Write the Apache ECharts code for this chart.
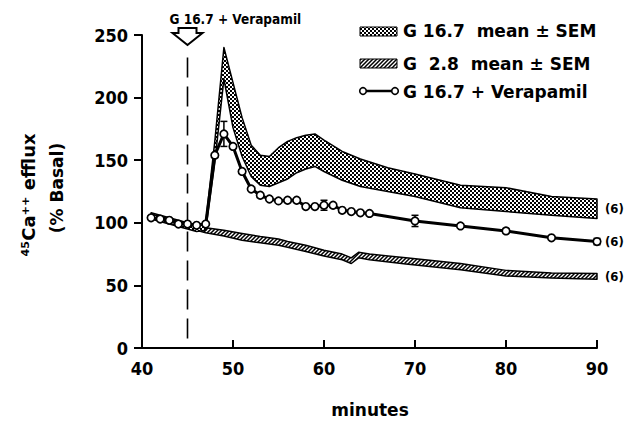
<!DOCTYPE html>
<html><head><meta charset="utf-8">
<script src="https://cdn.jsdelivr.net/npm/echarts@6/dist/echarts.min.js"></script>
<style>html,body{margin:0;padding:0;background:#fff}#c{width:624px;height:424px}</style>
</head><body><div id="c"></div>
<script>
// ---- data ----
const xTicks = [40, 50, 60, 70, 80, 90];
const yTicks = [0, 50, 100, 150, 200, 250];

const verX = [41,42,43,44,45,46,47,48,49,50,51,52,53,54,55,56,57,58,59,60,61,62,63,64,65,70,75,80,85,90];
const verY = [104,103,102,99,99,98,99,154,171,161,141,127,122,119,117.5,118,118,113,113,114,114,110,109,108,107.5,101.5,97.5,93.5,88,85];
const errX = [49, 60, 70, 80, 90];
const errV = [10, 4, 4.5, 2, 2.5];

const g167X  = [41,42,43,44,45,46,47,48,49,50,51,52,53,54,55,56,57,58,59,60,62,64,67,70,75,80,85,90];
const g167Hi = [107,105,103,101,99,98,100,165,240,212,184,162,154,153,160,165,168,170,171,166,157,151,144,139,130,128,121,119];
const g167Lo = [103,101,99,97,95,93,94,148,215,176,153,137,130,129,132,135,140,143,145,141,134,129,125,121,112,109,106,103.5];

const g28X  = [41,43,45,47,49,51,53,55,56,58,60,62,63,63.8,65,69,75,80,85,90];
const g28Hi = [108,104,100,96,94,91.5,89,87,85,82,78,75,72,76.5,75,72,67.5,62,60,59.5];
const g28Lo = [104,100,96,92,89.5,86,84,82,80.5,77,73.5,70.5,67.5,72,70.5,67,62.5,57.5,56,55];

const stimX = 45, stimTop = 232, arrowTip = 242;
const nLabel = '(6)';

// ---- patterns ----
function dotPattern() {
  const c = document.createElement('canvas'); c.width = 4; c.height = 4;
  const g = c.getContext('2d');
  g.fillStyle = '#fff'; g.fillRect(0,0,4,4);
  g.fillStyle = '#000'; g.fillRect(0,0,2,2); g.fillRect(2,2,2,2);
  return {image: c, repeat: 'repeat', imageWidth: 4, imageHeight: 4};
}
function hatchPattern() {
  const c = document.createElement('canvas'); c.width = 4; c.height = 4;
  const g = c.getContext('2d');
  g.fillStyle = '#fff'; g.fillRect(0,0,4,4);
  g.strokeStyle = '#000'; g.lineWidth = 1.5;
  g.beginPath();
  g.moveTo(-1,5); g.lineTo(5,-1);
  g.moveTo(-1,1); g.lineTo(1,-1);
  g.moveTo(3,5); g.lineTo(5,3);
  g.stroke();
  return {image: c, repeat: 'repeat', imageWidth: 4, imageHeight: 4};
}
const DOT = dotPattern(), HATCH = hatchPattern();

const FONT_L = 'bold 17px "DejaVu Sans"';
const FONT_N = 'bold 13px "DejaVu Sans Condensed", "DejaVu Sans"';
const N_DX = 8;

function band(xs, lo, hi, fill, z) {
  return {
    type: 'custom', coordinateSystem: 'cartesian2d', clip: false, silent: true, z: z,
    data: xs.map((x, i) => [x, lo[i], hi[i]]),
    encode: {x: 0, y: [1, 2]},
    renderItem: function (params, api) {
      if (params.dataIndex !== 0) return null;
      const top = xs.map((x, i) => api.coord([x, hi[i]]));
      const bot = xs.map((x, i) => api.coord([x, lo[i]]));
      const last = xs.length - 1;
      const mid = api.coord([xs[last], (lo[last] + hi[last]) / 2]);
      return {type: 'group', children: [
        {type: 'polygon', shape: {points: top.concat(bot.slice().reverse())},
         style: {fill: fill, stroke: '#000', lineWidth: 1.5, lineJoin: 'round'}},
        {type: 'text', x: mid[0] + N_DX, y: mid[1],
         style: {text: nLabel, font: FONT_N, fill: '#000', verticalAlign: 'middle', align: 'left'}}
      ]};
    }
  };
}

const chart = echarts.init(document.getElementById('c'), null, {renderer: 'svg'});
chart.setOption({
  animation: false,
  backgroundColor: '#fff',
  grid: {left: 142, right: 27, top: 35, bottom: 76},
  xAxis: {
    type: 'value', min: xTicks[0], max: xTicks[xTicks.length - 1], interval: 10,
    axisLine: {show: true, lineStyle: {color: '#000', width: 2}},
    axisTick: {show: true, inside: true, length: 8, lineStyle: {color: '#000', width: 2}},
    axisLabel: {margin: 11, color: '#000', fontFamily: '"DejaVu Sans Condensed", "DejaVu Sans"', fontWeight: 'bold', fontSize: 18},
    splitLine: {show: false}
  },
  yAxis: {
    type: 'value', min: yTicks[0], max: yTicks[yTicks.length - 1], interval: 50,
    axisLine: {show: true, lineStyle: {color: '#000', width: 2}},
    axisTick: {show: true, inside: false, length: 8, lineStyle: {color: '#000', width: 2}},
    axisLabel: {margin: 14, color: '#000', fontFamily: '"DejaVu Sans Condensed", "DejaVu Sans"', fontWeight: 'bold', fontSize: 18},
    splitLine: {show: false}
  },
  graphic: [
    {type: 'text', x: 28, y: 195, rotation: Math.PI / 2,
     style: {text: '\u2074\u2075Ca\u207A\u207A efflux', font: 'bold 18px "DejaVu Sans"', fill: '#000', align: 'center', verticalAlign: 'middle'}},
    {type: 'text', x: 57, y: 188, rotation: Math.PI / 2,
     style: {text: '(% Basal)', font: FONT_L, fill: '#000', align: 'center', verticalAlign: 'middle'}},
    {type: 'text', x: 370, y: 410,
     style: {text: 'minutes', font: FONT_L, fill: '#000', align: 'center', verticalAlign: 'middle'}},
    // legend
    {type: 'rect', shape: {x: 360, y: 27, width: 37, height: 9}, style: {fill: DOT, stroke: '#000', lineWidth: 1}},
    {type: 'text', x: 403, y: 31, style: {text: 'G 16.7  mean \u00B1 SEM', font: FONT_L, fill: '#000', verticalAlign: 'middle'}},
    {type: 'rect', shape: {x: 360, y: 59, width: 37, height: 9}, style: {fill: HATCH, stroke: '#000', lineWidth: 1}},
    {type: 'text', x: 403, y: 63.5, style: {text: 'G  2.8  mean \u00B1 SEM', font: FONT_L, fill: '#000', verticalAlign: 'middle'}},
    {type: 'line', shape: {x1: 363, y1: 91, x2: 395, y2: 91}, style: {stroke: '#000', lineWidth: 2.5}},
    {type: 'circle', shape: {cx: 363, cy: 91, r: 3.3}, style: {fill: '#fff', stroke: '#000', lineWidth: 1.6}},
    {type: 'circle', shape: {cx: 395, cy: 91, r: 3.3}, style: {fill: '#fff', stroke: '#000', lineWidth: 1.6}},
    {type: 'text', x: 403, y: 92, style: {text: 'G 16.7 + Verapamil', font: FONT_L, fill: '#000', verticalAlign: 'middle'}}
  ],
  series: [
    band(g28X, g28Lo, g28Hi, HATCH, 2),
    band(g167X, g167Lo, g167Hi, DOT, 3),
    {
      type: 'custom', coordinateSystem: 'cartesian2d', clip: false, silent: true, z: 4,
      data: [[stimX, stimTop]],
      renderItem: function (params, api) {
        const b = api.coord([stimX, 0]);
        const t = api.coord([stimX, stimTop]);
        const tip = api.coord([stimX, arrowTip]);
        const x = tip[0], y = tip[1];
        return {type: 'group', children: [
          {type: 'line', shape: {x1: t[0], y1: t[1], x2: b[0], y2: b[1]},
           style: {stroke: '#000', lineWidth: 1.6, lineDash: [20, 9]}},
          {type: 'polygon', shape: {points: [[x, y], [x - 15, y - 12], [x - 9, y - 12], [x - 9, y - 17], [x + 9, y - 17], [x + 9, y - 12], [x + 15, y - 12]]},
           style: {fill: '#fff', stroke: '#000', lineWidth: 2, lineJoin: 'miter'}},
          {type: 'text', x: x - 18, y: y - 26,
           style: {text: 'G 16.7 + Verapamil', font: 'bold 13.5px "DejaVu Sans Condensed", "DejaVu Sans"', fill: '#000', verticalAlign: 'middle'}}
        ]};
      }
    },
    {
      type: 'custom', coordinateSystem: 'cartesian2d', silent: true, z: 5, clip: false,
      data: errX.map((x, i) => [x, verY[verX.indexOf(x)], errV[i]]),
      renderItem: function (params, api) {
        const x = api.value(0), m = api.value(1), e = api.value(2);
        const p1 = api.coord([x, m + e]), p2 = api.coord([x, m - e]);
        const w = 3.5, st = {stroke: '#000', lineWidth: 1.5};
        const ch = [
          {type: 'line', shape: {x1: p1[0], y1: p1[1], x2: p2[0], y2: p2[1]}, style: st},
          {type: 'line', shape: {x1: p1[0] - w, y1: p1[1], x2: p1[0] + w, y2: p1[1]}, style: st},
          {type: 'line', shape: {x1: p2[0] - w, y1: p2[1], x2: p2[0] + w, y2: p2[1]}, style: st}
        ];
        if (params.dataIndex === errX.length - 1) {
          const c = api.coord([x, m]);
          ch.push({type: 'text', x: c[0] + N_DX, y: c[1],
            style: {text: nLabel, font: FONT_N, fill: '#000', verticalAlign: 'middle', align: 'left'}});
        }
        return {type: 'group', children: ch};
      }
    },
    {
      type: 'line', z: 6, silent: true,
      data: verX.map((x, i) => [x, verY[i]]),
      symbol: 'circle', symbolSize: 7.5, showAllSymbol: true,
      lineStyle: {color: '#000', width: 3},
      itemStyle: {color: '#fff', borderColor: '#000', borderWidth: 1.7}
    }
  ]
});
</script></body></html>
